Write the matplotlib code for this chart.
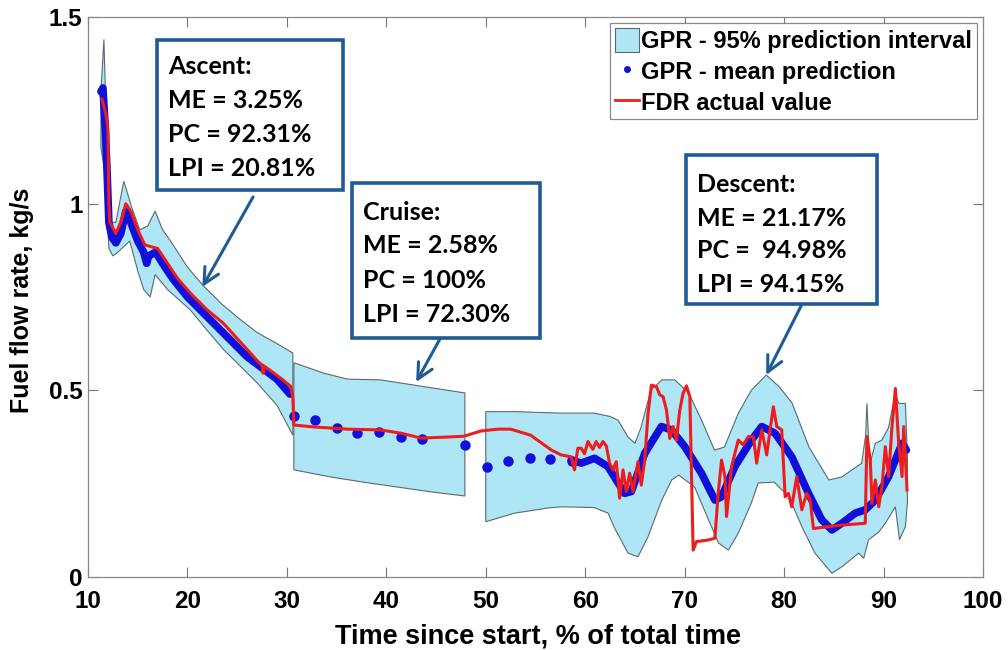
import numpy as np
import matplotlib
matplotlib.use("Agg")
import matplotlib.pyplot as plt
from matplotlib.patches import Rectangle, Patch
from matplotlib.lines import Line2D

# ---- data (x = % of total time, y = kg/s) ----
# 95% interval, ascent segment
asc_up_x = [11.3, 11.6, 11.8, 12.0, 12.3, 12.8, 13.6, 14.4, 15.2, 16.0, 16.75, 17.5, 18.3, 20.0, 21.6, 23.5, 25.3, 27.0, 29.0, 30.6]
asc_up_y = [1.30, 1.44, 1.25, 1.05, 0.95, 0.95, 1.06, 0.99, 0.93, 0.94, 0.98, 0.93, 0.90, 0.83, 0.78, 0.73, 0.69, 0.655, 0.625, 0.60]
asc_lo_x = [11.3, 11.6, 11.9, 12.1, 12.5, 13.0, 14.2, 15.0, 15.6, 16.25, 16.75, 18.0, 20.3, 22.0, 23.6, 25.3, 27.0, 29.0, 30.6]
asc_lo_y = [1.15, 1.10, 1.00, 0.88, 0.86, 0.87, 0.90, 0.82, 0.77, 0.75, 0.81, 0.77, 0.715, 0.66, 0.61, 0.565, 0.52, 0.46, 0.38]
# cruise segment
cru_up_x = [30.7, 33.7, 36.1, 39.4, 42.8, 47.9]
cru_up_y = [0.574, 0.546, 0.53, 0.528, 0.514, 0.493]
cru_lo_x = [30.7, 34.4, 37.7, 41.1, 44.5, 47.9]
cru_lo_y = [0.287, 0.268, 0.254, 0.241, 0.228, 0.217]
# descent segment
des_up_x = [50.0, 52.9, 56.3, 57.6, 60.9, 62.5, 63.3, 64.3, 65.0, 65.6, 66.6, 67.7, 69.0, 70.4, 71.7, 73.0, 74.0, 75.4, 76.7,
            78.2, 79.5, 80.8, 82.5, 84.5, 85.8, 87.8, 88.2, 88.33, 88.6, 89.17, 89.84, 90.5, 91.19, 91.52, 92.2, 92.4]
des_up_y = [0.443, 0.443, 0.44, 0.439, 0.439, 0.43, 0.42, 0.375, 0.358, 0.40, 0.50, 0.528, 0.528, 0.493, 0.42, 0.34, 0.348, 0.439, 0.50,
            0.541, 0.51, 0.466, 0.348, 0.26, 0.268, 0.305, 0.38, 0.465, 0.30, 0.358, 0.367, 0.40, 0.492, 0.465, 0.465, 0.32]
des_lo_x = [50.0, 52.9, 56.3, 57.6, 60.9, 62.3, 62.9, 64.3, 65.3, 66.3, 67.7, 68.7, 69.4, 71.0, 72.4, 73.4, 74.4, 75.4, 76.7,
            77.4, 79.0, 80.5, 81.8, 83.1, 84.8, 85.8, 87.5, 88.0, 88.5, 89.5, 90.18, 91.19, 91.6, 92.2, 92.4]
des_lo_y = [0.148, 0.171, 0.185, 0.188, 0.186, 0.171, 0.134, 0.064, 0.054, 0.107, 0.206, 0.26, 0.273, 0.241, 0.153, 0.091, 0.072, 0.118, 0.198,
            0.252, 0.254, 0.214, 0.134, 0.064, 0.01, 0.027, 0.064, 0.05, 0.10, 0.12, 0.144, 0.188, 0.10, 0.135, 0.20]

# GPR mean, dense parts
mean_asc_x = [11.3, 11.5, 11.7, 11.9, 12.1, 12.4, 12.8, 13.3, 13.8, 14.3, 15.0, 15.6, 15.9, 16.1, 16.8, 17.5, 18.5, 20.0, 21.5, 23.0, 24.5, 26.0, 27.5, 29.0, 30.3]
mean_asc_y = [1.30, 1.31, 1.22, 1.10, 0.95, 0.91, 0.895, 0.92, 0.98, 0.95, 0.90, 0.87, 0.84, 0.86, 0.87, 0.84, 0.80, 0.75, 0.71, 0.67, 0.63, 0.59, 0.56, 0.53, 0.49]
mean_des_x = [58.59, 59.6, 60.94, 62.28, 63.96, 64.64, 65.98, 67.66, 68.67, 70.01, 71.69, 73.04, 73.71, 75.05, 76.73, 77.75, 79.09,
              80.77, 82.45, 83.79, 84.8, 85.81, 87.15, 88.16, 89.17, 90.51, 91.86, 92.3]
mean_des_y = [0.313, 0.305, 0.318, 0.296, 0.224, 0.229, 0.331, 0.403, 0.394, 0.349, 0.278, 0.206, 0.215, 0.296, 0.367, 0.403, 0.385,
              0.322, 0.224, 0.153, 0.126, 0.144, 0.171, 0.18, 0.206, 0.269, 0.358, 0.34]
# GPR mean, sparse points (cruise)
mean_pts_x = [30.7, 32.8, 35.0, 37.1, 39.3, 41.5, 43.6, 47.9, 50.1, 52.2, 54.4, 56.5, 58.7]
mean_pts_y = [0.43, 0.42, 0.398, 0.386, 0.389, 0.376, 0.369, 0.354, 0.295, 0.311, 0.318, 0.317, 0.311]

# FDR actual value
fdr_x = [11.4, 11.8, 12.0, 12.1, 12.2, 12.8, 13.3, 13.8, 14.3, 15.0, 15.7, 16.3, 17.0, 18.0, 19.0, 20.3, 22.0, 23.6, 25.3, 27.0,
         27.5, 27.6, 27.7, 28.5, 29.5, 30.4, 30.6, 30.7, 32.7, 36.1, 39.4, 41.5, 43.5, 46.2, 47.8, 49.5, 51.2, 52.5, 54.5, 56.6,
         57.58, 58.59, 58.92, 59.26, 59.6, 59.93, 60.27, 60.77, 61.1, 61.44, 61.78, 62.12, 62.45, 62.79, 63.12, 63.46, 63.8,
         64.13, 64.47, 64.8, 65.31, 65.64, 65.98, 66.32, 66.65, 67.16, 67.49, 67.83, 68.17, 68.5, 68.84, 69.17, 69.51, 69.84,
         70.18, 70.52, 70.85, 71.19, 72.37, 73.04, 73.37, 73.71, 74.05, 74.21, 74.72, 75.39, 75.89, 76.4, 76.91, 77.24, 77.75,
         78.25, 78.59, 78.92, 79.26, 79.76, 80.1, 80.43, 80.77, 81.27, 81.78, 82.28, 82.62, 82.95, 85.81, 88.16, 88.33, 88.67,
         88.83, 89.17, 89.51, 89.84, 90.18, 90.51, 90.85, 91.19, 91.52, 91.86, 92.03, 92.36]
fdr_y = [1.28, 1.24, 1.20, 1.00, 0.95, 0.92, 0.95, 1.00, 0.98, 0.93, 0.89, 0.885, 0.88, 0.84, 0.80, 0.76, 0.715, 0.68, 0.63, 0.58,
         0.566, 0.546, 0.565, 0.55, 0.53, 0.51, 0.48, 0.407, 0.402, 0.396, 0.394, 0.385, 0.372, 0.375, 0.377, 0.391, 0.396, 0.396, 0.38, 0.34,
         0.327, 0.322, 0.287, 0.345, 0.345, 0.33, 0.363, 0.342, 0.363, 0.347, 0.363, 0.351, 0.305, 0.287, 0.309, 0.211, 0.287,
         0.229, 0.278, 0.229, 0.309, 0.246, 0.313, 0.438, 0.514, 0.51, 0.488, 0.483, 0.447, 0.371, 0.403, 0.367, 0.447, 0.492,
         0.512, 0.483, 0.072, 0.095, 0.099, 0.104, 0.224, 0.313, 0.269, 0.162, 0.296, 0.367, 0.354, 0.376, 0.376, 0.305, 0.394,
         0.327, 0.394, 0.456, 0.403, 0.394, 0.215, 0.224, 0.188, 0.269, 0.18, 0.224, 0.206, 0.130, 0.139, 0.144, 0.376, 0.313,
         0.197, 0.26, 0.188, 0.242, 0.349, 0.269, 0.403, 0.505, 0.358, 0.269, 0.403, 0.233]

stats_asc = ["Ascent:", "ME = 3.25%", "PC = 92.31%", "LPI = 20.81%"]
stats_cru = ["Cruise:", "ME = 2.58%", "PC = 100%", "LPI = 72.30%"]
stats_des = ["Descent:", "ME = 21.17%", "PC =  94.98%", "LPI = 94.15%"]

# ---- style ----
band_col = '#aee6f6'
edge_col = '#5a6a70'
mean_col = '#1010d8'
fdr_col = '#ee1c1c'
box_col = '#1f5b94'
W, H = 1008, 650

fig = plt.figure(figsize=(W / 100, H / 100), dpi=100)
ax = fig.add_axes([88 / W, 1 - 577 / H, (983 - 88) / W, (577 - 17) / H])

for ux, uy, lx, ly in [(asc_up_x, asc_up_y, asc_lo_x, asc_lo_y),
                       (cru_up_x, cru_up_y, cru_lo_x, cru_lo_y),
                       (des_up_x, des_up_y, des_lo_x, des_lo_y)]:
    ax.fill(np.r_[ux, lx[::-1]], np.r_[uy, ly[::-1]], facecolor=band_col,
            edgecolor=edge_col, lw=0.8, zorder=1)

ax.plot(mean_asc_x, mean_asc_y, color=mean_col, lw=5.5, solid_capstyle='round', zorder=2)
ax.plot(mean_des_x, mean_des_y, color=mean_col, lw=5.5, solid_capstyle='round', zorder=2)
ax.plot(mean_pts_x, mean_pts_y, 'o', color=mean_col, ms=6.5, zorder=2)
ax.plot(fdr_x, fdr_y, color=fdr_col, lw=2.2, zorder=3)

ax.set_xlim(10, 100)
ax.set_ylim(0, 1.5)
ax.set_xticks(np.arange(10, 101, 10))
ax.set_yticks([0, 0.5, 1, 1.5])
ax.set_yticklabels(['0', '0.5', '1', '1.5'])

tick_font = ['Liberation Sans', 'DejaVu Sans']
ax.tick_params(direction='in', top=True, right=True, length=7, width=0.8,
               color='#777777')
ax.tick_params(axis='x', pad=9)
ax.tick_params(axis='y', pad=4)
for lab in ax.get_xticklabels() + ax.get_yticklabels():
    lab.set_family(tick_font)
    lab.set_fontweight('bold')
    lab.set_fontsize(17.5)
for s in ax.spines.values():
    s.set_color('#888888')
    s.set_linewidth(0.9)

fig.text(538 / W, 1 - 637 / H, 'Time since start, % of total time', ha='center', va='center',
         family=tick_font, fontweight='bold', fontsize=19.5)
fig.text(22 / W, 1 - 300 / H, 'Fuel flow rate, kg/s', ha='center', va='center', rotation=90,
         family=tick_font, fontweight='bold', fontsize=18)

handles = [Patch(facecolor=band_col, edgecolor=edge_col, lw=0.8),
           Line2D([], [], ls='none', marker='.', color=mean_col, ms=8),
           Line2D([], [], color=fdr_col, lw=2)]
labels = ['GPR - 95% prediction interval', 'GPR - mean prediction', 'FDR actual value']
leg = ax.legend(handles, labels, loc='upper right', fancybox=False, framealpha=1,
                edgecolor='#888888', borderaxespad=0.25, borderpad=0.2, handlelength=1.0,
                handleheight=1.2, handletextpad=0.12, labelspacing=0.25,
                prop={'family': tick_font, 'weight': 'bold', 'size': 17})
leg.get_frame().set_linewidth(0.9)


def stat_box(x0, y0, x1, y1, lines, first, step):
    fig.patches.append(Rectangle((x0 / W, 1 - y1 / H), (x1 - x0) / W, (y1 - y0) / H,
                                 transform=fig.transFigure, facecolor='white',
                                 edgecolor=box_col, lw=2.6, zorder=5))
    for i, t in enumerate(lines):
        fig.text((x0 + 11) / W, 1 - (y0 + first + i * step) / H, t, ha='left', va='center',
                 family=['Lato', 'DejaVu Sans'], fontweight='bold', fontsize=18, zorder=6)


stat_box(157, 40, 343, 190, stats_asc, 26, 34)
stat_box(352, 183, 540, 338, stats_cru, 29, 34)
stat_box(686, 155, 877, 304, stats_des, 30, 33)

arrow = dict(arrowstyle='->', lw=2.2, color=box_col, mutation_scale=28, shrinkA=0, shrinkB=0)
ax.annotate('', xy=(21.5, 0.777), xytext=(26.6, 1.018), arrowprops=arrow)
ax.annotate('', xy=(43.0, 0.522), xytext=(45.5, 0.643), arrowprops=arrow)
ax.annotate('', xy=(78.2, 0.541), xytext=(81.8, 0.731), arrowprops=arrow)

fig.savefig('out.png', dpi=100)
